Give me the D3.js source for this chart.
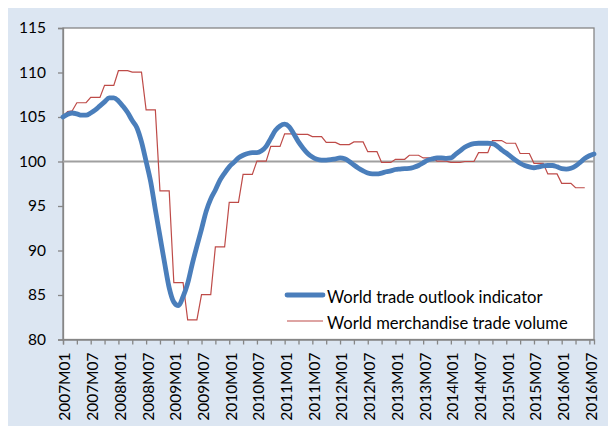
<!DOCTYPE html>
<html>
<head>
<meta charset="utf-8">
<script src="https://cdn.jsdelivr.net/npm/d3@7"></script>
<style>
    body { margin: 0; background: #fff; }
    svg text { font-family: Lato, "Open Sans", sans-serif; fill: #000; }
</style>
</head>
<body>
<div id="chart-area"></div>
<script>
const width = 608;
const height = 426;

// plot box, in pixels of the page
const plot = { left: 63, right: 594, top: 28, bottom: 339.5 };

// categories: 2007M01 .. 2016M08
const months = [];
for (let yr = 2007; yr <= 2016; yr++) {
    for (let mo = 1; mo <= 12; mo++) {
        if (yr === 2016 && mo > 8) break;
        months.push(yr + "M" + String(mo).padStart(2, "0"));
    }
}
const tickEvery = 3;
const labelEvery = 6;
const yTicks = [80, 85, 90, 95, 100, 105, 110, 115];
const baseline = 100;

const seriesNames = ["World trade outlook indicator", "World merchandise trade volume"];

// World trade outlook indicator, monthly 2007M01 - 2016M08
const outlookIndicator = [
    105.0, 105.3, 105.45, 105.35, 105.2, 105.2, 105.45, 105.8, 106.25, 106.7, 107.15, 107.15,
    106.8, 106.2, 105.5, 104.6, 103.8, 102.2, 100.0, 97.7, 94.6, 91.6, 88.6, 85.8,
    84.2, 83.8, 84.8, 86.3, 88.5, 90.5, 92.4, 94.4, 95.8, 96.8, 97.9, 98.7,
    99.4, 99.9, 100.4, 100.7, 100.9, 101.0, 101.0, 101.2, 101.7, 102.6, 103.5, 104.0,
    104.2, 103.9, 103.1, 102.2, 101.5, 100.9, 100.5, 100.25, 100.15, 100.15, 100.2, 100.3,
    100.4, 100.3, 100.0, 99.6, 99.25, 98.95, 98.7, 98.6, 98.6, 98.7, 98.85, 98.95,
    99.1, 99.15, 99.2, 99.22, 99.35, 99.55, 99.85, 100.15, 100.3, 100.4, 100.4, 100.35,
    100.4, 100.8, 101.2, 101.6, 101.85, 102.0, 102.05, 102.05, 102.05, 102.0, 101.75, 101.3,
    100.95, 100.55, 100.15, 99.8, 99.55, 99.4, 99.3, 99.4, 99.5, 99.55, 99.55, 99.4,
    99.2, 99.15, 99.25, 99.5, 99.9, 100.35, 100.65, 100.85
];

// World merchandise trade volume, monthly 2007M01 - 2016M06 (quarterly levels)
const merchandiseVolume = [
    105.1, 105.6, 105.7, 106.6, 106.6, 106.6, 107.2, 107.2, 107.2, 108.55, 108.55, 108.55,
    110.2, 110.2, 110.2, 110.05, 110.05, 110.05, 105.8, 105.8, 105.8, 96.7, 96.7, 96.7,
    86.4, 86.4, 86.4, 82.2, 82.2, 82.2, 85.05, 85.05, 85.05, 90.4, 90.4, 90.4,
    95.4, 95.4, 95.4, 98.55, 98.55, 98.55, 100.05, 100.05, 100.05, 101.7, 101.7, 101.7,
    103.1, 103.1, 103.1, 103.05, 103.05, 103.05, 102.8, 102.8, 102.8, 102.15, 102.15, 102.15,
    101.9, 101.9, 101.9, 102.2, 102.2, 102.2, 101.1, 101.1, 101.1, 99.9, 99.9, 99.9,
    100.25, 100.25, 100.25, 100.7, 100.7, 100.7, 100.4, 100.4, 100.4, 100.05, 100.05, 100.05,
    99.9, 99.9, 99.9, 100.0, 100.0, 100.0, 101.0, 101.0, 101.0, 102.35, 102.35, 102.35,
    102.05, 102.05, 102.05, 100.9, 100.9, 100.9, 99.8, 99.8, 99.8, 98.6, 98.6, 98.6,
    97.55, 97.55, 97.55, 97.05, 97.05, 97.05
];

const blue = "#4a7ebb";
const red = "#be4b48";
const frameGray = "#868686";

const svg = d3.select("#chart-area")
    .append("svg")
        .attr("width", width)
        .attr("height", height);

// light blue chart background
svg.append("rect")
    .attr("x", 8)
    .attr("y", 8)
    .attr("width", width - 8)
    .attr("height", height - 8)
    .attr("fill", "#dce6f2");

svg.append("rect")
    .attr("x", plot.left)
    .attr("y", plot.top)
    .attr("width", plot.right - plot.left)
    .attr("height", plot.bottom - plot.top)
    .attr("fill", "#fff")
    .attr("stroke", frameGray)
    .attr("stroke-width", 1.3);

const xMapping = d3.scalePoint()
    .domain(months)
    .range([plot.left, plot.right]);

const yMapping = d3.scaleLinear()
    .domain([80, 115])
    .range([plot.bottom, plot.top]);

// y axis
const yAxis = svg.append("g")
    .attr("transform", `translate(${plot.left}, 0)`)
    .call(d3.axisLeft(yMapping).tickValues(yTicks).tickSize(5).tickPadding(12));
yAxis.selectAll("text").style("font-size", "15.5px");

// x axis, tick every quarter, label every half year
const xAxis = svg.append("g")
    .attr("transform", `translate(0, ${plot.bottom})`)
    .call(d3.axisBottom(xMapping)
        .tickValues(months.filter((d, i) => i % tickEvery === 0))
        .tickSize(5)
        .tickFormat(d => months.indexOf(d) % labelEvery === 0 ? d : ""));
xAxis.selectAll("text")
    .style("font-size", "15.5px")
    .attr("text-anchor", "end")
    .attr("transform", "rotate(-90)")
    .attr("x", -13)
    .attr("y", 1.5)
    .attr("dy", "0.35em");

[yAxis, xAxis].forEach(ax => {
    ax.select(".domain").attr("stroke", frameGray).attr("stroke-width", 1.3);
    ax.selectAll(".tick line").attr("stroke", frameGray).attr("stroke-width", 1.3);
});

// reference line at 100
svg.append("line")
    .attr("x1", plot.left)
    .attr("x2", plot.right)
    .attr("y1", yMapping(baseline))
    .attr("y2", yMapping(baseline))
    .attr("stroke", "#a0a0a0")
    .attr("stroke-width", 1.8);

svg.append("path")
    .datum(merchandiseVolume)
    .attr("fill", "none")
    .attr("stroke", red)
    .attr("stroke-width", 1.2)
    .attr("d", d3.line()
        .x((d, i) => xMapping(months[i]))
        .y(d => yMapping(d)));

svg.append("path")
    .datum(outlookIndicator)
    .attr("fill", "none")
    .attr("stroke", blue)
    .attr("stroke-width", 4.8)
    .attr("stroke-linejoin", "round")
    .attr("stroke-linecap", "round")
    .attr("d", d3.line()
        .curve(d3.curveMonotoneX)
        .x((d, i) => xMapping(months[i]))
        .y(d => yMapping(d)));

// legend
const legend = svg.append("g")
    .attr("transform", "translate(287, 295)");

const legendItems = [
    { name: seriesNames[0], color: blue, w: 4.8 },
    { name: seriesNames[1], color: red, w: 1.2 }
];

legendItems.forEach((item, i) => {
    const row = legend.append("g").attr("transform", `translate(0, ${i * 26})`);
    row.append("line")
        .attr("x1", 0)
        .attr("x2", 36)
        .attr("stroke", item.color)
        .attr("stroke-width", item.w)
        .attr("stroke-linecap", item.w > 2 ? "round" : "butt");
    row.append("text")
        .attr("x", 40)
        .attr("y", 7.5)
        .style("font-size", "16.6px")
        .text(item.name);
});
</script>
</body>
</html>
